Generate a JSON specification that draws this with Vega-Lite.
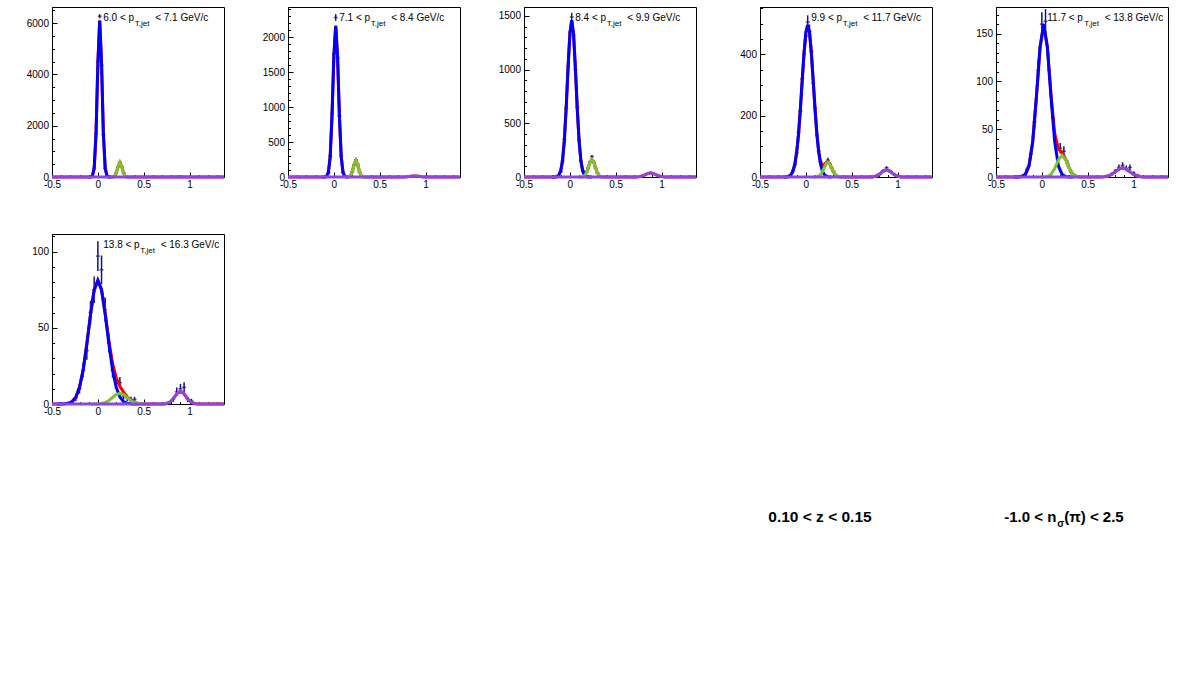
{
"$schema":"https://vega.github.io/schema/vega-lite/v6.json",
"background":"white",
"padding":{"left":25,"top":2,"right":5,"bottom":5},
"config":{"view":{"stroke":"black","strokeWidth":1},"axis":{"grid":false,"domainColor":"black","domainWidth":1,"tickColor":"black","tickWidth":1,"labelColor":"black","labelFont":"Liberation Sans","labelFontSize":10,"labelFlush":false,"labelOverlap":false}},
"datasets":{
"fit":[
{"p":1,"c":"tot","x":-0.5,"y":0},{"p":1,"c":"tot","x":-0.1,"y":0},{"p":1,"c":"tot","x":-0.08,"y":2},{"p":1,"c":"tot","x":-0.06,"y":37},{"p":1,"c":"tot","x":-0.04,"y":342},{"p":1,"c":"tot","x":-0.02,"y":1696},{"p":1,"c":"tot","x":0,"y":4429},{"p":1,"c":"tot","x":0.02,"y":6100},{"p":1,"c":"tot","x":0.04,"y":4429},{"p":1,"c":"tot","x":0.06,"y":1696},{"p":1,"c":"tot","x":0.08,"y":342},{"p":1,"c":"tot","x":0.1,"y":37},{"p":1,"c":"tot","x":0.12,"y":2},{"p":1,"c":"tot","x":0.14,"y":0},{"p":1,"c":"tot","x":0.16,"y":3},{"p":1,"c":"tot","x":0.18,"y":31},{"p":1,"c":"tot","x":0.2,"y":156},{"p":1,"c":"tot","x":0.22,"y":407},{"p":1,"c":"tot","x":0.24,"y":560},{"p":1,"c":"tot","x":0.26,"y":407},{"p":1,"c":"tot","x":0.28,"y":156},{"p":1,"c":"tot","x":0.3,"y":31},{"p":1,"c":"tot","x":0.32,"y":3},{"p":1,"c":"tot","x":0.34,"y":0},{"p":1,"c":"tot","x":0.76,"y":0},{"p":1,"c":"tot","x":0.82,"y":2},{"p":1,"c":"tot","x":0.88,"y":5},{"p":1,"c":"tot","x":0.94,"y":2},{"p":1,"c":"tot","x":1,"y":0},{"p":1,"c":"tot","x":1.375,"y":0},
{"p":1,"c":"pi","x":-0.1,"y":0},{"p":1,"c":"pi","x":-0.08,"y":2},{"p":1,"c":"pi","x":-0.06,"y":37},{"p":1,"c":"pi","x":-0.04,"y":342},{"p":1,"c":"pi","x":-0.02,"y":1696},{"p":1,"c":"pi","x":0,"y":4429},{"p":1,"c":"pi","x":0.02,"y":6100},{"p":1,"c":"pi","x":0.04,"y":4429},{"p":1,"c":"pi","x":0.06,"y":1696},{"p":1,"c":"pi","x":0.08,"y":342},{"p":1,"c":"pi","x":0.1,"y":37},{"p":1,"c":"pi","x":0.12,"y":2},{"p":1,"c":"pi","x":0.14,"y":0},
{"p":1,"c":"K","x":0.14,"y":0},{"p":1,"c":"K","x":0.16,"y":3},{"p":1,"c":"K","x":0.18,"y":31},{"p":1,"c":"K","x":0.2,"y":156},{"p":1,"c":"K","x":0.22,"y":407},{"p":1,"c":"K","x":0.24,"y":560},{"p":1,"c":"K","x":0.26,"y":407},{"p":1,"c":"K","x":0.28,"y":156},{"p":1,"c":"K","x":0.3,"y":31},{"p":1,"c":"K","x":0.32,"y":3},{"p":1,"c":"K","x":0.34,"y":0},
{"p":1,"c":"p","x":-0.5,"y":0},{"p":1,"c":"p","x":0.76,"y":0},{"p":1,"c":"p","x":0.82,"y":2},{"p":1,"c":"p","x":0.88,"y":5},{"p":1,"c":"p","x":0.94,"y":2},{"p":1,"c":"p","x":1,"y":0},{"p":1,"c":"p","x":1.375,"y":0},

{"p":2,"c":"tot","x":-0.5,"y":0},{"p":2,"c":"tot","x":-0.12,"y":0},{"p":2,"c":"tot","x":-0.1,"y":0.7},{"p":2,"c":"tot","x":-0.08,"y":8},{"p":2,"c":"tot","x":-0.06,"y":62},{"p":2,"c":"tot","x":-0.04,"y":292},{"p":2,"c":"tot","x":-0.02,"y":888},{"p":2,"c":"tot","x":0,"y":1730},{"p":2,"c":"tot","x":0.02,"y":2160},{"p":2,"c":"tot","x":0.04,"y":1730},{"p":2,"c":"tot","x":0.06,"y":888},{"p":2,"c":"tot","x":0.08,"y":292},{"p":2,"c":"tot","x":0.1,"y":62},{"p":2,"c":"tot","x":0.12,"y":8},{"p":2,"c":"tot","x":0.14,"y":0.8},{"p":2,"c":"tot","x":0.16,"y":2},{"p":2,"c":"tot","x":0.18,"y":16},{"p":2,"c":"tot","x":0.2,"y":72},{"p":2,"c":"tot","x":0.22,"y":175},{"p":2,"c":"tot","x":0.24,"y":235},{"p":2,"c":"tot","x":0.26,"y":175},{"p":2,"c":"tot","x":0.28,"y":72},{"p":2,"c":"tot","x":0.3,"y":16},{"p":2,"c":"tot","x":0.32,"y":2},{"p":2,"c":"tot","x":0.34,"y":0.1},{"p":2,"c":"tot","x":0.36,"y":0},{"p":2,"c":"tot","x":0.68,"y":0},{"p":2,"c":"tot","x":0.76,"y":0.8},{"p":2,"c":"tot","x":0.8,"y":4.2},{"p":2,"c":"tot","x":0.84,"y":10.9},{"p":2,"c":"tot","x":0.88,"y":15},{"p":2,"c":"tot","x":0.92,"y":10.9},{"p":2,"c":"tot","x":0.96,"y":4.2},{"p":2,"c":"tot","x":1,"y":0.8},{"p":2,"c":"tot","x":1.08,"y":0},{"p":2,"c":"tot","x":1.375,"y":0},
{"p":2,"c":"pi","x":-0.12,"y":0},{"p":2,"c":"pi","x":-0.1,"y":0.7},{"p":2,"c":"pi","x":-0.08,"y":8},{"p":2,"c":"pi","x":-0.06,"y":62},{"p":2,"c":"pi","x":-0.04,"y":292},{"p":2,"c":"pi","x":-0.02,"y":888},{"p":2,"c":"pi","x":0,"y":1730},{"p":2,"c":"pi","x":0.02,"y":2160},{"p":2,"c":"pi","x":0.04,"y":1730},{"p":2,"c":"pi","x":0.06,"y":888},{"p":2,"c":"pi","x":0.08,"y":292},{"p":2,"c":"pi","x":0.1,"y":62},{"p":2,"c":"pi","x":0.12,"y":8},{"p":2,"c":"pi","x":0.14,"y":0.7},{"p":2,"c":"pi","x":0.16,"y":0},
{"p":2,"c":"K","x":0.12,"y":0},{"p":2,"c":"K","x":0.14,"y":0.1},{"p":2,"c":"K","x":0.16,"y":2},{"p":2,"c":"K","x":0.18,"y":16},{"p":2,"c":"K","x":0.2,"y":72},{"p":2,"c":"K","x":0.22,"y":175},{"p":2,"c":"K","x":0.24,"y":235},{"p":2,"c":"K","x":0.26,"y":175},{"p":2,"c":"K","x":0.28,"y":72},{"p":2,"c":"K","x":0.3,"y":16},{"p":2,"c":"K","x":0.32,"y":2},{"p":2,"c":"K","x":0.34,"y":0.1},{"p":2,"c":"K","x":0.36,"y":0},
{"p":2,"c":"p","x":-0.5,"y":0},{"p":2,"c":"p","x":0.68,"y":0},{"p":2,"c":"p","x":0.72,"y":0.05},{"p":2,"c":"p","x":0.76,"y":0.8},{"p":2,"c":"p","x":0.8,"y":4.2},{"p":2,"c":"p","x":0.84,"y":10.9},{"p":2,"c":"p","x":0.88,"y":15},{"p":2,"c":"p","x":0.92,"y":10.9},{"p":2,"c":"p","x":0.96,"y":4.2},{"p":2,"c":"p","x":1,"y":0.8},{"p":2,"c":"p","x":1.04,"y":0.05},{"p":2,"c":"p","x":1.08,"y":0},{"p":2,"c":"p","x":1.375,"y":0},

{"p":3,"c":"tot","x":-0.5,"y":0},{"p":3,"c":"tot","x":-0.2,"y":0},{"p":3,"c":"tot","x":-0.18,"y":0.2},{"p":3,"c":"tot","x":-0.16,"y":0.95},{"p":3,"c":"tot","x":-0.14,"y":4.4},{"p":3,"c":"tot","x":-0.12,"y":17.2},{"p":3,"c":"tot","x":-0.1,"y":56},{"p":3,"c":"tot","x":-0.08,"y":152},{"p":3,"c":"tot","x":-0.06,"y":343},{"p":3,"c":"tot","x":-0.04,"y":647},{"p":3,"c":"tot","x":-0.02,"y":1016},{"p":3,"c":"tot","x":0,"y":1333},{"p":3,"c":"tot","x":0.02,"y":1460},{"p":3,"c":"tot","x":0.04,"y":1333},{"p":3,"c":"tot","x":0.06,"y":1016},{"p":3,"c":"tot","x":0.08,"y":647},{"p":3,"c":"tot","x":0.1,"y":343},{"p":3,"c":"tot","x":0.12,"y":152.5},{"p":3,"c":"tot","x":0.14,"y":58.8},{"p":3,"c":"tot","x":0.16,"y":29.3},{"p":3,"c":"tot","x":0.18,"y":42.4},{"p":3,"c":"tot","x":0.2,"y":86.8},{"p":3,"c":"tot","x":0.22,"y":140.2},{"p":3,"c":"tot","x":0.24,"y":165},{"p":3,"c":"tot","x":0.26,"y":140},{"p":3,"c":"tot","x":0.28,"y":85.8},{"p":3,"c":"tot","x":0.3,"y":38},{"p":3,"c":"tot","x":0.32,"y":12.1},{"p":3,"c":"tot","x":0.34,"y":2.8},{"p":3,"c":"tot","x":0.36,"y":0.46},{"p":3,"c":"tot","x":0.38,"y":0},{"p":3,"c":"tot","x":0.64,"y":0},{"p":3,"c":"tot","x":0.72,"y":0.55},{"p":3,"c":"tot","x":0.76,"y":3.5},{"p":3,"c":"tot","x":0.8,"y":13.2},{"p":3,"c":"tot","x":0.84,"y":29.2},{"p":3,"c":"tot","x":0.88,"y":38},{"p":3,"c":"tot","x":0.92,"y":29.2},{"p":3,"c":"tot","x":0.96,"y":13.2},{"p":3,"c":"tot","x":1,"y":3.5},{"p":3,"c":"tot","x":1.04,"y":0.55},{"p":3,"c":"tot","x":1.12,"y":0},{"p":3,"c":"tot","x":1.375,"y":0},
{"p":3,"c":"pi","x":-0.2,"y":0},{"p":3,"c":"pi","x":-0.18,"y":0.2},{"p":3,"c":"pi","x":-0.16,"y":0.95},{"p":3,"c":"pi","x":-0.14,"y":4.4},{"p":3,"c":"pi","x":-0.12,"y":17.2},{"p":3,"c":"pi","x":-0.1,"y":56},{"p":3,"c":"pi","x":-0.08,"y":152},{"p":3,"c":"pi","x":-0.06,"y":343},{"p":3,"c":"pi","x":-0.04,"y":647},{"p":3,"c":"pi","x":-0.02,"y":1016},{"p":3,"c":"pi","x":0,"y":1333},{"p":3,"c":"pi","x":0.02,"y":1460},{"p":3,"c":"pi","x":0.04,"y":1333},{"p":3,"c":"pi","x":0.06,"y":1016},{"p":3,"c":"pi","x":0.08,"y":647},{"p":3,"c":"pi","x":0.1,"y":343},{"p":3,"c":"pi","x":0.12,"y":152},{"p":3,"c":"pi","x":0.14,"y":56},{"p":3,"c":"pi","x":0.16,"y":17.2},{"p":3,"c":"pi","x":0.18,"y":4.4},{"p":3,"c":"pi","x":0.2,"y":0.95},{"p":3,"c":"pi","x":0.22,"y":0.2},{"p":3,"c":"pi","x":0.24,"y":0},
{"p":3,"c":"K","x":0.1,"y":0},{"p":3,"c":"K","x":0.12,"y":0.46},{"p":3,"c":"K","x":0.14,"y":2.8},{"p":3,"c":"K","x":0.16,"y":12.1},{"p":3,"c":"K","x":0.18,"y":38},{"p":3,"c":"K","x":0.2,"y":85.8},{"p":3,"c":"K","x":0.22,"y":140},{"p":3,"c":"K","x":0.24,"y":165},{"p":3,"c":"K","x":0.26,"y":140},{"p":3,"c":"K","x":0.28,"y":85.8},{"p":3,"c":"K","x":0.3,"y":38},{"p":3,"c":"K","x":0.32,"y":12.1},{"p":3,"c":"K","x":0.34,"y":2.8},{"p":3,"c":"K","x":0.36,"y":0.46},{"p":3,"c":"K","x":0.38,"y":0},
{"p":3,"c":"p","x":-0.5,"y":0},{"p":3,"c":"p","x":0.64,"y":0},{"p":3,"c":"p","x":0.68,"y":0.05},{"p":3,"c":"p","x":0.72,"y":0.55},{"p":3,"c":"p","x":0.76,"y":3.5},{"p":3,"c":"p","x":0.8,"y":13.2},{"p":3,"c":"p","x":0.84,"y":29.2},{"p":3,"c":"p","x":0.88,"y":38},{"p":3,"c":"p","x":0.92,"y":29.2},{"p":3,"c":"p","x":0.96,"y":13.2},{"p":3,"c":"p","x":1,"y":3.5},{"p":3,"c":"p","x":1.04,"y":0.55},{"p":3,"c":"p","x":1.08,"y":0.05},{"p":3,"c":"p","x":1.12,"y":0},{"p":3,"c":"p","x":1.375,"y":0},

{"p":4,"c":"tot","x":-0.5,"y":0},{"p":4,"c":"tot","x":-0.24,"y":0},{"p":4,"c":"tot","x":-0.22,"y":0.3},{"p":4,"c":"tot","x":-0.2,"y":1.1},{"p":4,"c":"tot","x":-0.18,"y":3.2},{"p":4,"c":"tot","x":-0.16,"y":8.4},{"p":4,"c":"tot","x":-0.14,"y":19.7},{"p":4,"c":"tot","x":-0.12,"y":41.9},{"p":4,"c":"tot","x":-0.1,"y":81},{"p":4,"c":"tot","x":-0.08,"y":140},{"p":4,"c":"tot","x":-0.06,"y":221},{"p":4,"c":"tot","x":-0.04,"y":314},{"p":4,"c":"tot","x":-0.02,"y":404},{"p":4,"c":"tot","x":0,"y":471},{"p":4,"c":"tot","x":0.02,"y":495},{"p":4,"c":"tot","x":0.04,"y":471},{"p":4,"c":"tot","x":0.06,"y":404},{"p":4,"c":"tot","x":0.08,"y":314},{"p":4,"c":"tot","x":0.1,"y":221.2},{"p":4,"c":"tot","x":0.12,"y":140.8},{"p":4,"c":"tot","x":0.14,"y":83.8},{"p":4,"c":"tot","x":0.16,"y":49.7},{"p":4,"c":"tot","x":0.18,"y":37},{"p":4,"c":"tot","x":0.2,"y":38.9},{"p":4,"c":"tot","x":0.22,"y":46.1},{"p":4,"c":"tot","x":0.24,"y":49.1},{"p":4,"c":"tot","x":0.26,"y":43.2},{"p":4,"c":"tot","x":0.28,"y":30.6},{"p":4,"c":"tot","x":0.3,"y":17.3},{"p":4,"c":"tot","x":0.32,"y":7.8},{"p":4,"c":"tot","x":0.34,"y":2.8},{"p":4,"c":"tot","x":0.36,"y":0.8},{"p":4,"c":"tot","x":0.38,"y":0.19},{"p":4,"c":"tot","x":0.4,"y":0},{"p":4,"c":"tot","x":0.64,"y":0},{"p":4,"c":"tot","x":0.68,"y":0.03},{"p":4,"c":"tot","x":0.72,"y":0.35},{"p":4,"c":"tot","x":0.76,"y":2.2},{"p":4,"c":"tot","x":0.8,"y":8.3},{"p":4,"c":"tot","x":0.84,"y":18.4},{"p":4,"c":"tot","x":0.88,"y":24},{"p":4,"c":"tot","x":0.92,"y":18.4},{"p":4,"c":"tot","x":0.96,"y":8.3},{"p":4,"c":"tot","x":1,"y":2.2},{"p":4,"c":"tot","x":1.04,"y":0.35},{"p":4,"c":"tot","x":1.08,"y":0.03},{"p":4,"c":"tot","x":1.12,"y":0},{"p":4,"c":"tot","x":1.375,"y":0},
{"p":4,"c":"pi","x":-0.24,"y":0},{"p":4,"c":"pi","x":-0.22,"y":0.3},{"p":4,"c":"pi","x":-0.2,"y":1.1},{"p":4,"c":"pi","x":-0.18,"y":3.2},{"p":4,"c":"pi","x":-0.16,"y":8.4},{"p":4,"c":"pi","x":-0.14,"y":19.7},{"p":4,"c":"pi","x":-0.12,"y":41.9},{"p":4,"c":"pi","x":-0.1,"y":81},{"p":4,"c":"pi","x":-0.08,"y":140},{"p":4,"c":"pi","x":-0.06,"y":221},{"p":4,"c":"pi","x":-0.04,"y":314},{"p":4,"c":"pi","x":-0.02,"y":404},{"p":4,"c":"pi","x":0,"y":471},{"p":4,"c":"pi","x":0.02,"y":495},{"p":4,"c":"pi","x":0.04,"y":471},{"p":4,"c":"pi","x":0.06,"y":404},{"p":4,"c":"pi","x":0.08,"y":314},{"p":4,"c":"pi","x":0.1,"y":221},{"p":4,"c":"pi","x":0.12,"y":140},{"p":4,"c":"pi","x":0.14,"y":81},{"p":4,"c":"pi","x":0.16,"y":41.9},{"p":4,"c":"pi","x":0.18,"y":19.7},{"p":4,"c":"pi","x":0.2,"y":8.4},{"p":4,"c":"pi","x":0.22,"y":3.2},{"p":4,"c":"pi","x":0.24,"y":1.1},{"p":4,"c":"pi","x":0.26,"y":0.3},{"p":4,"c":"pi","x":0.28,"y":0},
{"p":4,"c":"K","x":0.08,"y":0},{"p":4,"c":"K","x":0.1,"y":0.19},{"p":4,"c":"K","x":0.12,"y":0.8},{"p":4,"c":"K","x":0.14,"y":2.8},{"p":4,"c":"K","x":0.16,"y":7.8},{"p":4,"c":"K","x":0.18,"y":17.3},{"p":4,"c":"K","x":0.2,"y":30.5},{"p":4,"c":"K","x":0.22,"y":42.9},{"p":4,"c":"K","x":0.24,"y":48},{"p":4,"c":"K","x":0.26,"y":42.9},{"p":4,"c":"K","x":0.28,"y":30.5},{"p":4,"c":"K","x":0.3,"y":17.3},{"p":4,"c":"K","x":0.32,"y":7.8},{"p":4,"c":"K","x":0.34,"y":2.8},{"p":4,"c":"K","x":0.36,"y":0.8},{"p":4,"c":"K","x":0.38,"y":0.19},{"p":4,"c":"K","x":0.4,"y":0},
{"p":4,"c":"p","x":-0.5,"y":0},{"p":4,"c":"p","x":0.64,"y":0},{"p":4,"c":"p","x":0.68,"y":0.03},{"p":4,"c":"p","x":0.72,"y":0.35},{"p":4,"c":"p","x":0.76,"y":2.2},{"p":4,"c":"p","x":0.8,"y":8.3},{"p":4,"c":"p","x":0.84,"y":18.4},{"p":4,"c":"p","x":0.88,"y":24},{"p":4,"c":"p","x":0.92,"y":18.4},{"p":4,"c":"p","x":0.96,"y":8.3},{"p":4,"c":"p","x":1,"y":2.2},{"p":4,"c":"p","x":1.04,"y":0.35},{"p":4,"c":"p","x":1.08,"y":0.03},{"p":4,"c":"p","x":1.12,"y":0},{"p":4,"c":"p","x":1.375,"y":0},

{"p":5,"c":"tot","x":-0.5,"y":0},{"p":5,"c":"tot","x":-0.3,"y":0},{"p":5,"c":"tot","x":-0.26,"y":0.05},{"p":5,"c":"tot","x":-0.22,"y":0.45},{"p":5,"c":"tot","x":-0.18,"y":2.7},{"p":5,"c":"tot","x":-0.14,"y":11.7},{"p":5,"c":"tot","x":-0.1,"y":36.8},{"p":5,"c":"tot","x":-0.06,"y":83.2},{"p":5,"c":"tot","x":-0.02,"y":135.8},{"p":5,"c":"tot","x":0.02,"y":160.1},{"p":5,"c":"tot","x":0.06,"y":136.3},{"p":5,"c":"tot","x":0.1,"y":85.9},{"p":5,"c":"tot","x":0.14,"y":45.6},{"p":5,"c":"tot","x":0.18,"y":29.6},{"p":5,"c":"tot","x":0.22,"y":25.4},{"p":5,"c":"tot","x":0.26,"y":18.35},{"p":5,"c":"tot","x":0.3,"y":8.85},{"p":5,"c":"tot","x":0.34,"y":2.7},{"p":5,"c":"tot","x":0.38,"y":0.5},{"p":5,"c":"tot","x":0.42,"y":0.06},{"p":5,"c":"tot","x":0.46,"y":0},{"p":5,"c":"tot","x":0.6,"y":0},{"p":5,"c":"tot","x":0.64,"y":0.06},{"p":5,"c":"tot","x":0.68,"y":0.27},{"p":5,"c":"tot","x":0.72,"y":0.98},{"p":5,"c":"tot","x":0.76,"y":2.6},{"p":5,"c":"tot","x":0.8,"y":5.4},{"p":5,"c":"tot","x":0.84,"y":8.2},{"p":5,"c":"tot","x":0.88,"y":9.5},{"p":5,"c":"tot","x":0.92,"y":8.2},{"p":5,"c":"tot","x":0.96,"y":5.4},{"p":5,"c":"tot","x":1,"y":2.6},{"p":5,"c":"tot","x":1.04,"y":0.98},{"p":5,"c":"tot","x":1.08,"y":0.27},{"p":5,"c":"tot","x":1.12,"y":0.06},{"p":5,"c":"tot","x":1.16,"y":0},{"p":5,"c":"tot","x":1.375,"y":0},
{"p":5,"c":"pi","x":-0.3,"y":0},{"p":5,"c":"pi","x":-0.26,"y":0.05},{"p":5,"c":"pi","x":-0.22,"y":0.45},{"p":5,"c":"pi","x":-0.18,"y":2.7},{"p":5,"c":"pi","x":-0.14,"y":11.7},{"p":5,"c":"pi","x":-0.1,"y":36.8},{"p":5,"c":"pi","x":-0.06,"y":83.2},{"p":5,"c":"pi","x":-0.02,"y":135.8},{"p":5,"c":"pi","x":0.02,"y":160},{"p":5,"c":"pi","x":0.06,"y":135.8},{"p":5,"c":"pi","x":0.1,"y":83.2},{"p":5,"c":"pi","x":0.14,"y":36.8},{"p":5,"c":"pi","x":0.18,"y":11.7},{"p":5,"c":"pi","x":0.22,"y":2.7},{"p":5,"c":"pi","x":0.26,"y":0.45},{"p":5,"c":"pi","x":0.3,"y":0.05},{"p":5,"c":"pi","x":0.34,"y":0},
{"p":5,"c":"K","x":-0.02,"y":0},{"p":5,"c":"K","x":0.02,"y":0.06},{"p":5,"c":"K","x":0.06,"y":0.5},{"p":5,"c":"K","x":0.1,"y":2.7},{"p":5,"c":"K","x":0.14,"y":8.8},{"p":5,"c":"K","x":0.18,"y":17.9},{"p":5,"c":"K","x":0.22,"y":22.7},{"p":5,"c":"K","x":0.26,"y":17.9},{"p":5,"c":"K","x":0.3,"y":8.8},{"p":5,"c":"K","x":0.34,"y":2.7},{"p":5,"c":"K","x":0.38,"y":0.5},{"p":5,"c":"K","x":0.42,"y":0.06},{"p":5,"c":"K","x":0.46,"y":0},
{"p":5,"c":"p","x":-0.5,"y":0},{"p":5,"c":"p","x":0.6,"y":0},{"p":5,"c":"p","x":0.64,"y":0.06},{"p":5,"c":"p","x":0.68,"y":0.27},{"p":5,"c":"p","x":0.72,"y":0.98},{"p":5,"c":"p","x":0.76,"y":2.6},{"p":5,"c":"p","x":0.8,"y":5.4},{"p":5,"c":"p","x":0.84,"y":8.2},{"p":5,"c":"p","x":0.88,"y":9.5},{"p":5,"c":"p","x":0.92,"y":8.2},{"p":5,"c":"p","x":0.96,"y":5.4},{"p":5,"c":"p","x":1,"y":2.6},{"p":5,"c":"p","x":1.04,"y":0.98},{"p":5,"c":"p","x":1.08,"y":0.27},{"p":5,"c":"p","x":1.12,"y":0.06},{"p":5,"c":"p","x":1.16,"y":0},{"p":5,"c":"p","x":1.375,"y":0},

{"p":6,"c":"tot","x":-0.5,"y":0},{"p":6,"c":"tot","x":-0.44,"y":0},{"p":6,"c":"tot","x":-0.4,"y":0.02},{"p":6,"c":"tot","x":-0.36,"y":0.12},{"p":6,"c":"tot","x":-0.32,"y":0.49},{"p":6,"c":"tot","x":-0.28,"y":1.6},{"p":6,"c":"tot","x":-0.24,"y":4.54},{"p":6,"c":"tot","x":-0.2,"y":10.96},{"p":6,"c":"tot","x":-0.16,"y":22.5},{"p":6,"c":"tot","x":-0.12,"y":39.4},{"p":6,"c":"tot","x":-0.08,"y":58.8},{"p":6,"c":"tot","x":-0.04,"y":74.8},{"p":6,"c":"tot","x":0,"y":81.1},{"p":6,"c":"tot","x":0.04,"y":75.1},{"p":6,"c":"tot","x":0.08,"y":59.75},{"p":6,"c":"tot","x":0.12,"y":41.67},{"p":6,"c":"tot","x":0.16,"y":26.75},{"p":6,"c":"tot","x":0.2,"y":17.14},{"p":6,"c":"tot","x":0.24,"y":11.54},{"p":6,"c":"tot","x":0.28,"y":7.78},{"p":6,"c":"tot","x":0.32,"y":4.74},{"p":6,"c":"tot","x":0.36,"y":2.39},{"p":6,"c":"tot","x":0.4,"y":0.97},{"p":6,"c":"tot","x":0.44,"y":0.31},{"p":6,"c":"tot","x":0.48,"y":0.08},{"p":6,"c":"tot","x":0.52,"y":0.015},{"p":6,"c":"tot","x":0.56,"y":0},{"p":6,"c":"tot","x":0.66,"y":0},{"p":6,"c":"tot","x":0.7,"y":0.02},{"p":6,"c":"tot","x":0.74,"y":0.19},{"p":6,"c":"tot","x":0.78,"y":1},{"p":6,"c":"tot","x":0.82,"y":3.28},{"p":6,"c":"tot","x":0.86,"y":6.7},{"p":6,"c":"tot","x":0.9,"y":8.5},{"p":6,"c":"tot","x":0.94,"y":6.7},{"p":6,"c":"tot","x":0.98,"y":3.28},{"p":6,"c":"tot","x":1.02,"y":1},{"p":6,"c":"tot","x":1.06,"y":0.19},{"p":6,"c":"tot","x":1.1,"y":0.02},{"p":6,"c":"tot","x":1.14,"y":0},{"p":6,"c":"tot","x":1.375,"y":0},
{"p":6,"c":"pi","x":-0.44,"y":0},{"p":6,"c":"pi","x":-0.4,"y":0.02},{"p":6,"c":"pi","x":-0.36,"y":0.12},{"p":6,"c":"pi","x":-0.32,"y":0.49},{"p":6,"c":"pi","x":-0.28,"y":1.6},{"p":6,"c":"pi","x":-0.24,"y":4.54},{"p":6,"c":"pi","x":-0.2,"y":10.96},{"p":6,"c":"pi","x":-0.16,"y":22.5},{"p":6,"c":"pi","x":-0.12,"y":39.4},{"p":6,"c":"pi","x":-0.08,"y":58.8},{"p":6,"c":"pi","x":-0.04,"y":74.8},{"p":6,"c":"pi","x":0,"y":81},{"p":6,"c":"pi","x":0.04,"y":74.8},{"p":6,"c":"pi","x":0.08,"y":58.8},{"p":6,"c":"pi","x":0.12,"y":39.4},{"p":6,"c":"pi","x":0.16,"y":22.5},{"p":6,"c":"pi","x":0.2,"y":10.96},{"p":6,"c":"pi","x":0.24,"y":4.54},{"p":6,"c":"pi","x":0.28,"y":1.6},{"p":6,"c":"pi","x":0.32,"y":0.49},{"p":6,"c":"pi","x":0.36,"y":0.12},{"p":6,"c":"pi","x":0.4,"y":0.02},{"p":6,"c":"pi","x":0.44,"y":0},
{"p":6,"c":"K","x":-0.08,"y":0},{"p":6,"c":"K","x":-0.04,"y":0.015},{"p":6,"c":"K","x":0,"y":0.08},{"p":6,"c":"K","x":0.04,"y":0.31},{"p":6,"c":"K","x":0.08,"y":0.95},{"p":6,"c":"K","x":0.12,"y":2.27},{"p":6,"c":"K","x":0.16,"y":4.25},{"p":6,"c":"K","x":0.2,"y":6.18},{"p":6,"c":"K","x":0.24,"y":7},{"p":6,"c":"K","x":0.28,"y":6.18},{"p":6,"c":"K","x":0.32,"y":4.25},{"p":6,"c":"K","x":0.36,"y":2.27},{"p":6,"c":"K","x":0.4,"y":0.95},{"p":6,"c":"K","x":0.44,"y":0.31},{"p":6,"c":"K","x":0.48,"y":0.08},{"p":6,"c":"K","x":0.52,"y":0.015},{"p":6,"c":"K","x":0.56,"y":0},
{"p":6,"c":"p","x":-0.5,"y":0},{"p":6,"c":"p","x":0.66,"y":0},{"p":6,"c":"p","x":0.7,"y":0.02},{"p":6,"c":"p","x":0.74,"y":0.19},{"p":6,"c":"p","x":0.78,"y":1},{"p":6,"c":"p","x":0.82,"y":3.28},{"p":6,"c":"p","x":0.86,"y":6.7},{"p":6,"c":"p","x":0.9,"y":8.5},{"p":6,"c":"p","x":0.94,"y":6.7},{"p":6,"c":"p","x":0.98,"y":3.28},{"p":6,"c":"p","x":1.02,"y":1},{"p":6,"c":"p","x":1.06,"y":0.19},{"p":6,"c":"p","x":1.1,"y":0.02},{"p":6,"c":"p","x":1.14,"y":0},{"p":6,"c":"p","x":1.375,"y":0}
],
"pts":[
{"p":1,"x":-0.04,"y":340,"e":18},{"p":1,"x":-0.02,"y":1700,"e":41},{"p":1,"x":0,"y":4500,"e":67},{"p":1,"x":0.02,"y":6270,"e":79},{"p":1,"x":0.04,"y":4350,"e":66},{"p":1,"x":0.06,"y":1650,"e":41},{"p":1,"x":0.08,"y":330,"e":18},{"p":1,"x":0.1,"y":45,"e":7},{"p":1,"x":0.18,"y":35,"e":6},{"p":1,"x":0.2,"y":150,"e":12},{"p":1,"x":0.22,"y":400,"e":20},{"p":1,"x":0.24,"y":575,"e":24},{"p":1,"x":0.26,"y":410,"e":20},{"p":1,"x":0.28,"y":160,"e":13},{"p":1,"x":0.3,"y":35,"e":6},
{"p":2,"x":-0.06,"y":60,"e":8},{"p":2,"x":-0.04,"y":300,"e":17},{"p":2,"x":-0.02,"y":900,"e":30},{"p":2,"x":0,"y":1760,"e":42},{"p":2,"x":0.02,"y":2280,"e":48},{"p":2,"x":0.04,"y":1700,"e":41},{"p":2,"x":0.06,"y":870,"e":29},{"p":2,"x":0.08,"y":300,"e":17},{"p":2,"x":0.1,"y":65,"e":8},{"p":2,"x":0.18,"y":18,"e":4},{"p":2,"x":0.2,"y":75,"e":9},{"p":2,"x":0.22,"y":170,"e":13},{"p":2,"x":0.24,"y":245,"e":16},{"p":2,"x":0.26,"y":180,"e":13},{"p":2,"x":0.28,"y":70,"e":8},{"p":2,"x":0.3,"y":18,"e":4},{"p":2,"x":0.84,"y":12,"e":3.5},{"p":2,"x":0.88,"y":16,"e":4},{"p":2,"x":0.92,"y":10,"e":3},
{"p":3,"x":-0.1,"y":50,"e":7},{"p":3,"x":-0.08,"y":150,"e":12},{"p":3,"x":-0.06,"y":350,"e":19},{"p":3,"x":-0.04,"y":640,"e":25},{"p":3,"x":-0.02,"y":1030,"e":32},{"p":3,"x":0,"y":1350,"e":37},{"p":3,"x":0.02,"y":1490,"e":39},{"p":3,"x":0.04,"y":1320,"e":36},{"p":3,"x":0.06,"y":1000,"e":32},{"p":3,"x":0.08,"y":650,"e":25},{"p":3,"x":0.1,"y":340,"e":18},{"p":3,"x":0.12,"y":150,"e":12},{"p":3,"x":0.14,"y":60,"e":8},{"p":3,"x":0.16,"y":30,"e":5.5},{"p":3,"x":0.18,"y":45,"e":7},{"p":3,"x":0.2,"y":85,"e":9},{"p":3,"x":0.22,"y":140,"e":12},{"p":3,"x":0.24,"y":190,"e":14},{"p":3,"x":0.26,"y":135,"e":12},{"p":3,"x":0.28,"y":85,"e":9},{"p":3,"x":0.3,"y":40,"e":6},{"p":3,"x":0.32,"y":12,"e":3.5},{"p":3,"x":0.8,"y":14,"e":4},{"p":3,"x":0.84,"y":30,"e":5.5},{"p":3,"x":0.88,"y":40,"e":6},{"p":3,"x":0.92,"y":28,"e":5},{"p":3,"x":0.96,"y":12,"e":3.5},
{"p":4,"x":-0.14,"y":22,"e":4.7},{"p":4,"x":-0.12,"y":40,"e":6.3},{"p":4,"x":-0.1,"y":78,"e":9},{"p":4,"x":-0.08,"y":145,"e":12},{"p":4,"x":-0.06,"y":215,"e":15},{"p":4,"x":-0.04,"y":320,"e":18},{"p":4,"x":-0.02,"y":400,"e":20},{"p":4,"x":0,"y":460,"e":21},{"p":4,"x":0.02,"y":505,"e":22},{"p":4,"x":0.04,"y":475,"e":22},{"p":4,"x":0.06,"y":410,"e":20},{"p":4,"x":0.08,"y":305,"e":17},{"p":4,"x":0.1,"y":225,"e":15},{"p":4,"x":0.12,"y":135,"e":12},{"p":4,"x":0.14,"y":85,"e":9},{"p":4,"x":0.16,"y":50,"e":7},{"p":4,"x":0.18,"y":38,"e":6},{"p":4,"x":0.2,"y":40,"e":6.3},{"p":4,"x":0.22,"y":45,"e":6.7},{"p":4,"x":0.24,"y":55,"e":7.4},{"p":4,"x":0.26,"y":42,"e":6.5},{"p":4,"x":0.28,"y":30,"e":5.5},{"p":4,"x":0.3,"y":18,"e":4.2},{"p":4,"x":0.32,"y":8,"e":2.8},{"p":4,"x":0.34,"y":3,"e":1.7},{"p":4,"x":0.8,"y":9,"e":3},{"p":4,"x":0.84,"y":20,"e":4.5},{"p":4,"x":0.88,"y":30,"e":5.5},{"p":4,"x":0.92,"y":17,"e":4.1},{"p":4,"x":0.96,"y":9,"e":3},{"p":4,"x":1,"y":3,"e":1.7},
{"p":5,"x":-0.2,"y":2,"e":1.4},{"p":5,"x":-0.16,"y":8,"e":2.8},{"p":5,"x":-0.12,"y":24,"e":4.9},{"p":5,"x":-0.08,"y":58,"e":7.6},{"p":5,"x":-0.04,"y":112,"e":10.6},{"p":5,"x":0,"y":160,"e":12.6},{"p":5,"x":0.04,"y":163,"e":12.8},{"p":5,"x":0.08,"y":112,"e":10.6},{"p":5,"x":0.12,"y":62,"e":7.9},{"p":5,"x":0.16,"y":32,"e":5.7},{"p":5,"x":0.2,"y":30,"e":5.5},{"p":5,"x":0.24,"y":27,"e":5.2},{"p":5,"x":0.28,"y":14,"e":3.7},{"p":5,"x":0.32,"y":5,"e":2.2},{"p":5,"x":0.36,"y":1,"e":1},{"p":5,"x":0.76,"y":3,"e":1.7},{"p":5,"x":0.8,"y":6,"e":2.4},{"p":5,"x":0.84,"y":10,"e":3.2},{"p":5,"x":0.88,"y":12,"e":3.5},{"p":5,"x":0.92,"y":9,"e":3},{"p":5,"x":0.96,"y":10,"e":3.2},{"p":5,"x":1,"y":4,"e":2},{"p":5,"x":1.04,"y":2,"e":1.4},
{"p":6,"x":-0.28,"y":1,"e":1},{"p":6,"x":-0.24,"y":4,"e":2},{"p":6,"x":-0.2,"y":10,"e":3.2},{"p":6,"x":-0.16,"y":22,"e":4.7},{"p":6,"x":-0.12,"y":35,"e":5.9},{"p":6,"x":-0.08,"y":60,"e":7.7},{"p":6,"x":-0.04,"y":75,"e":8.7},{"p":6,"x":0,"y":97,"e":9.8},{"p":6,"x":0.04,"y":88,"e":9.4},{"p":6,"x":0.08,"y":62,"e":7.9},{"p":6,"x":0.12,"y":40,"e":6.3},{"p":6,"x":0.16,"y":22,"e":4.7},{"p":6,"x":0.2,"y":16,"e":4},{"p":6,"x":0.24,"y":14,"e":3.7},{"p":6,"x":0.28,"y":5,"e":2.2},{"p":6,"x":0.32,"y":4,"e":2},{"p":6,"x":0.36,"y":3,"e":1.7},{"p":6,"x":0.4,"y":3,"e":1.7},{"p":6,"x":0.82,"y":3,"e":1.7},{"p":6,"x":0.86,"y":8,"e":2.8},{"p":6,"x":0.9,"y":10,"e":3.2},{"p":6,"x":0.94,"y":11,"e":3.3},{"p":6,"x":0.98,"y":3,"e":1.7},{"p":6,"x":1.02,"y":2,"e":1.4}
]
},
"columns":5,
"spacing":{"row":57,"column":64},
"bounds":"flush",
"concat":[
{"width":172,"height":170,"resolve":{"scale":{"x":"independent","y":"independent"},"axis":{"x":"independent","y":"independent"}},"layer":[
{"encoding":{"x":{"field":"x","type":"quantitative","scale":{"domain":[-0.5,1.375],"nice":false,"zero":false},"axis":{"title":null,"values":[-0.5,-0.4,-0.3,-0.2,-0.1,0,0.1,0.2,0.3,0.4,0.5,0.6,0.7,0.8,0.9,1,1.1,1.2,1.3],"labelExpr":"abs(datum.value*2-round(datum.value*2))<0.001 ? ''+datum.value : ''","tickSize":{"condition":{"test":"abs(datum.value*2-round(datum.value*2))<0.001","value":-5},"value":-2.5},"labelPadding":7}},
"y":{"field":"y","type":"quantitative","scale":{"domain":[0,6630],"nice":false,"zero":true},"axis":{"title":null,"values":[0,500,1000,1500,2000,2500,3000,3500,4000,4500,5000,5500,6000,6500],"labelExpr":"datum.value % 2000 === 0 ? ''+datum.value : ''","tickSize":{"condition":{"test":"datum.value % 2000 === 0","value":-5},"value":-2.5},"labelPadding":8.5}}},
"layer":[
{"data":{"name":"pts"},"transform":[{"filter":"datum.p==1"}],"mark":{"type":"errorbar","color":"#14147a","thickness":1.5},"encoding":{"yError":{"field":"e"}}},
{"data":{"name":"pts"},"transform":[{"filter":"datum.p==1"}],"mark":{"type":"tick","orient":"horizontal","size":4,"thickness":1.5,"color":"#14147a"},"encoding":{}},
{"data":{"name":"fit"},"transform":[{"filter":"datum.p==1"}],"mark":{"type":"line","strokeWidth":3,"clip":false},"encoding":{"color":{"field":"c","type":"nominal","scale":{"domain":["tot","pi","K","p"],"range":["#ff0000","#0000ff","#7bc62d","#8b47e6"]},"legend":null}}}
]},
{"data":{"values":[{}]},"mark":{"type":"text","align":"left","baseline":"alphabetic","fontSize":10,"font":"Liberation Sans","color":"black"},"encoding":{"x":{"datum":0.298,"type":"quantitative","scale":{"domain":[0,1]},"axis":null},"y":{"datum":0.915,"type":"quantitative","scale":{"domain":[0,1]},"axis":null},"text":{"value":"6.0 < p"}}},
{"data":{"values":[{}]},"mark":{"type":"text","align":"left","baseline":"alphabetic","fontSize":8,"font":"Liberation Sans","color":"black","dx":31.6,"dy":4.5},"encoding":{"x":{"datum":0.298,"type":"quantitative","scale":{"domain":[0,1]},"axis":null},"y":{"datum":0.915,"type":"quantitative","scale":{"domain":[0,1]},"axis":null},"text":{"value":"T,jet"}}},
{"data":{"values":[{}]},"mark":{"type":"text","align":"left","baseline":"alphabetic","fontSize":10,"font":"Liberation Sans","color":"black","dx":51.9},"encoding":{"x":{"datum":0.298,"type":"quantitative","scale":{"domain":[0,1]},"axis":null},"y":{"datum":0.915,"type":"quantitative","scale":{"domain":[0,1]},"axis":null},"text":{"value":"< 7.1 GeV/c"}}}
]},
{"width":172,"height":170,"resolve":{"scale":{"x":"independent","y":"independent"},"axis":{"x":"independent","y":"independent"}},"layer":[
{"encoding":{"x":{"field":"x","type":"quantitative","scale":{"domain":[-0.5,1.375],"nice":false,"zero":false},"axis":{"title":null,"values":[-0.5,-0.4,-0.3,-0.2,-0.1,0,0.1,0.2,0.3,0.4,0.5,0.6,0.7,0.8,0.9,1,1.1,1.2,1.3],"labelExpr":"abs(datum.value*2-round(datum.value*2))<0.001 ? ''+datum.value : ''","tickSize":{"condition":{"test":"abs(datum.value*2-round(datum.value*2))<0.001","value":-5},"value":-2.5},"labelPadding":7}},
"y":{"field":"y","type":"quantitative","scale":{"domain":[0,2430],"nice":false,"zero":true},"axis":{"title":null,"values":[0,100,200,300,400,500,600,700,800,900,1000,1100,1200,1300,1400,1500,1600,1700,1800,1900,2000,2100,2200,2300,2400],"labelExpr":"datum.value % 500 === 0 ? ''+datum.value : ''","tickSize":{"condition":{"test":"datum.value % 500 === 0","value":-5},"value":-2.5},"labelPadding":8.5}}},
"layer":[
{"data":{"name":"pts"},"transform":[{"filter":"datum.p==2"}],"mark":{"type":"errorbar","color":"#14147a","thickness":1.5},"encoding":{"yError":{"field":"e"}}},
{"data":{"name":"pts"},"transform":[{"filter":"datum.p==2"}],"mark":{"type":"tick","orient":"horizontal","size":4,"thickness":1.5,"color":"#14147a"},"encoding":{}},
{"data":{"name":"fit"},"transform":[{"filter":"datum.p==2"}],"mark":{"type":"line","strokeWidth":3,"clip":false},"encoding":{"color":{"field":"c","type":"nominal","scale":{"domain":["tot","pi","K","p"],"range":["#ff0000","#0000ff","#7bc62d","#8b47e6"]},"legend":null}}}
]},
{"data":{"values":[{}]},"mark":{"type":"text","align":"left","baseline":"alphabetic","fontSize":10,"font":"Liberation Sans","color":"black"},"encoding":{"x":{"datum":0.298,"type":"quantitative","scale":{"domain":[0,1]},"axis":null},"y":{"datum":0.915,"type":"quantitative","scale":{"domain":[0,1]},"axis":null},"text":{"value":"7.1 < p"}}},
{"data":{"values":[{}]},"mark":{"type":"text","align":"left","baseline":"alphabetic","fontSize":8,"font":"Liberation Sans","color":"black","dx":31.6,"dy":4.5},"encoding":{"x":{"datum":0.298,"type":"quantitative","scale":{"domain":[0,1]},"axis":null},"y":{"datum":0.915,"type":"quantitative","scale":{"domain":[0,1]},"axis":null},"text":{"value":"T,jet"}}},
{"data":{"values":[{}]},"mark":{"type":"text","align":"left","baseline":"alphabetic","fontSize":10,"font":"Liberation Sans","color":"black","dx":51.9},"encoding":{"x":{"datum":0.298,"type":"quantitative","scale":{"domain":[0,1]},"axis":null},"y":{"datum":0.915,"type":"quantitative","scale":{"domain":[0,1]},"axis":null},"text":{"value":"< 8.4 GeV/c"}}}
]},
{"width":172,"height":170,"resolve":{"scale":{"x":"independent","y":"independent"},"axis":{"x":"independent","y":"independent"}},"layer":[
{"encoding":{"x":{"field":"x","type":"quantitative","scale":{"domain":[-0.5,1.375],"nice":false,"zero":false},"axis":{"title":null,"values":[-0.5,-0.4,-0.3,-0.2,-0.1,0,0.1,0.2,0.3,0.4,0.5,0.6,0.7,0.8,0.9,1,1.1,1.2,1.3],"labelExpr":"abs(datum.value*2-round(datum.value*2))<0.001 ? ''+datum.value : ''","tickSize":{"condition":{"test":"abs(datum.value*2-round(datum.value*2))<0.001","value":-5},"value":-2.5},"labelPadding":7}},
"y":{"field":"y","type":"quantitative","scale":{"domain":[0,1583],"nice":false,"zero":true},"axis":{"title":null,"values":[0,100,200,300,400,500,600,700,800,900,1000,1100,1200,1300,1400,1500],"labelExpr":"datum.value % 500 === 0 ? ''+datum.value : ''","tickSize":{"condition":{"test":"datum.value % 500 === 0","value":-5},"value":-2.5},"labelPadding":8.5}}},
"layer":[
{"data":{"name":"pts"},"transform":[{"filter":"datum.p==3"}],"mark":{"type":"errorbar","color":"#14147a","thickness":1.5},"encoding":{"yError":{"field":"e"}}},
{"data":{"name":"pts"},"transform":[{"filter":"datum.p==3"}],"mark":{"type":"tick","orient":"horizontal","size":4,"thickness":1.5,"color":"#14147a"},"encoding":{}},
{"data":{"name":"fit"},"transform":[{"filter":"datum.p==3"}],"mark":{"type":"line","strokeWidth":3,"clip":false},"encoding":{"color":{"field":"c","type":"nominal","scale":{"domain":["tot","pi","K","p"],"range":["#ff0000","#0000ff","#7bc62d","#8b47e6"]},"legend":null}}}
]},
{"data":{"values":[{}]},"mark":{"type":"text","align":"left","baseline":"alphabetic","fontSize":10,"font":"Liberation Sans","color":"black"},"encoding":{"x":{"datum":0.298,"type":"quantitative","scale":{"domain":[0,1]},"axis":null},"y":{"datum":0.915,"type":"quantitative","scale":{"domain":[0,1]},"axis":null},"text":{"value":"8.4 < p"}}},
{"data":{"values":[{}]},"mark":{"type":"text","align":"left","baseline":"alphabetic","fontSize":8,"font":"Liberation Sans","color":"black","dx":31.6,"dy":4.5},"encoding":{"x":{"datum":0.298,"type":"quantitative","scale":{"domain":[0,1]},"axis":null},"y":{"datum":0.915,"type":"quantitative","scale":{"domain":[0,1]},"axis":null},"text":{"value":"T,jet"}}},
{"data":{"values":[{}]},"mark":{"type":"text","align":"left","baseline":"alphabetic","fontSize":10,"font":"Liberation Sans","color":"black","dx":51.9},"encoding":{"x":{"datum":0.298,"type":"quantitative","scale":{"domain":[0,1]},"axis":null},"y":{"datum":0.915,"type":"quantitative","scale":{"domain":[0,1]},"axis":null},"text":{"value":"< 9.9 GeV/c"}}}
]},
{"width":172,"height":170,"resolve":{"scale":{"x":"independent","y":"independent"},"axis":{"x":"independent","y":"independent"}},"layer":[
{"encoding":{"x":{"field":"x","type":"quantitative","scale":{"domain":[-0.5,1.375],"nice":false,"zero":false},"axis":{"title":null,"values":[-0.5,-0.4,-0.3,-0.2,-0.1,0,0.1,0.2,0.3,0.4,0.5,0.6,0.7,0.8,0.9,1,1.1,1.2,1.3],"labelExpr":"abs(datum.value*2-round(datum.value*2))<0.001 ? ''+datum.value : ''","tickSize":{"condition":{"test":"abs(datum.value*2-round(datum.value*2))<0.001","value":-5},"value":-2.5},"labelPadding":7}},
"y":{"field":"y","type":"quantitative","scale":{"domain":[0,554],"nice":false,"zero":true},"axis":{"title":null,"values":[0,50,100,150,200,250,300,350,400,450,500,550],"labelExpr":"datum.value % 200 === 0 ? ''+datum.value : ''","tickSize":{"condition":{"test":"datum.value % 200 === 0","value":-5},"value":-2.5},"labelPadding":8.5}}},
"layer":[
{"data":{"name":"pts"},"transform":[{"filter":"datum.p==4"}],"mark":{"type":"errorbar","color":"#14147a","thickness":1.5},"encoding":{"yError":{"field":"e"}}},
{"data":{"name":"pts"},"transform":[{"filter":"datum.p==4"}],"mark":{"type":"tick","orient":"horizontal","size":4,"thickness":1.5,"color":"#14147a"},"encoding":{}},
{"data":{"name":"fit"},"transform":[{"filter":"datum.p==4"}],"mark":{"type":"line","strokeWidth":3,"clip":false},"encoding":{"color":{"field":"c","type":"nominal","scale":{"domain":["tot","pi","K","p"],"range":["#ff0000","#0000ff","#7bc62d","#8b47e6"]},"legend":null}}}
]},
{"data":{"values":[{}]},"mark":{"type":"text","align":"left","baseline":"alphabetic","fontSize":10,"font":"Liberation Sans","color":"black"},"encoding":{"x":{"datum":0.298,"type":"quantitative","scale":{"domain":[0,1]},"axis":null},"y":{"datum":0.915,"type":"quantitative","scale":{"domain":[0,1]},"axis":null},"text":{"value":"9.9 < p"}}},
{"data":{"values":[{}]},"mark":{"type":"text","align":"left","baseline":"alphabetic","fontSize":8,"font":"Liberation Sans","color":"black","dx":31.6,"dy":4.5},"encoding":{"x":{"datum":0.298,"type":"quantitative","scale":{"domain":[0,1]},"axis":null},"y":{"datum":0.915,"type":"quantitative","scale":{"domain":[0,1]},"axis":null},"text":{"value":"T,jet"}}},
{"data":{"values":[{}]},"mark":{"type":"text","align":"left","baseline":"alphabetic","fontSize":10,"font":"Liberation Sans","color":"black","dx":51.9},"encoding":{"x":{"datum":0.298,"type":"quantitative","scale":{"domain":[0,1]},"axis":null},"y":{"datum":0.915,"type":"quantitative","scale":{"domain":[0,1]},"axis":null},"text":{"value":"< 11.7 GeV/c"}}}
]},
{"width":172,"height":170,"resolve":{"scale":{"x":"independent","y":"independent"},"axis":{"x":"independent","y":"independent"}},"layer":[
{"encoding":{"x":{"field":"x","type":"quantitative","scale":{"domain":[-0.5,1.375],"nice":false,"zero":false},"axis":{"title":null,"values":[-0.5,-0.4,-0.3,-0.2,-0.1,0,0.1,0.2,0.3,0.4,0.5,0.6,0.7,0.8,0.9,1,1.1,1.2,1.3],"labelExpr":"abs(datum.value*2-round(datum.value*2))<0.001 ? ''+datum.value : ''","tickSize":{"condition":{"test":"abs(datum.value*2-round(datum.value*2))<0.001","value":-5},"value":-2.5},"labelPadding":7}},
"y":{"field":"y","type":"quantitative","scale":{"domain":[0,178],"nice":false,"zero":true},"axis":{"title":null,"values":[0,10,20,30,40,50,60,70,80,90,100,110,120,130,140,150,160,170],"labelExpr":"datum.value % 50 === 0 ? ''+datum.value : ''","tickSize":{"condition":{"test":"datum.value % 50 === 0","value":-5},"value":-2.5},"labelPadding":8.5}}},
"layer":[
{"data":{"name":"pts"},"transform":[{"filter":"datum.p==5"}],"mark":{"type":"errorbar","color":"#14147a","thickness":1.5},"encoding":{"yError":{"field":"e"}}},
{"data":{"name":"pts"},"transform":[{"filter":"datum.p==5"}],"mark":{"type":"tick","orient":"horizontal","size":4,"thickness":1.5,"color":"#14147a"},"encoding":{}},
{"data":{"name":"fit"},"transform":[{"filter":"datum.p==5"}],"mark":{"type":"line","strokeWidth":3,"clip":false},"encoding":{"color":{"field":"c","type":"nominal","scale":{"domain":["tot","pi","K","p"],"range":["#ff0000","#0000ff","#7bc62d","#8b47e6"]},"legend":null}}}
]},
{"data":{"values":[{}]},"mark":{"type":"text","align":"left","baseline":"alphabetic","fontSize":10,"font":"Liberation Sans","color":"black"},"encoding":{"x":{"datum":0.298,"type":"quantitative","scale":{"domain":[0,1]},"axis":null},"y":{"datum":0.915,"type":"quantitative","scale":{"domain":[0,1]},"axis":null},"text":{"value":"11.7 < p"}}},
{"data":{"values":[{}]},"mark":{"type":"text","align":"left","baseline":"alphabetic","fontSize":8,"font":"Liberation Sans","color":"black","dx":37.1,"dy":4.5},"encoding":{"x":{"datum":0.298,"type":"quantitative","scale":{"domain":[0,1]},"axis":null},"y":{"datum":0.915,"type":"quantitative","scale":{"domain":[0,1]},"axis":null},"text":{"value":"T,jet"}}},
{"data":{"values":[{}]},"mark":{"type":"text","align":"left","baseline":"alphabetic","fontSize":10,"font":"Liberation Sans","color":"black","dx":57.4},"encoding":{"x":{"datum":0.298,"type":"quantitative","scale":{"domain":[0,1]},"axis":null},"y":{"datum":0.915,"type":"quantitative","scale":{"domain":[0,1]},"axis":null},"text":{"value":"< 13.8 GeV/c"}}}
]},
{"width":172,"height":170,"resolve":{"scale":{"x":"independent","y":"independent"},"axis":{"x":"independent","y":"independent"}},"layer":[
{"encoding":{"x":{"field":"x","type":"quantitative","scale":{"domain":[-0.5,1.375],"nice":false,"zero":false},"axis":{"title":null,"values":[-0.5,-0.4,-0.3,-0.2,-0.1,0,0.1,0.2,0.3,0.4,0.5,0.6,0.7,0.8,0.9,1,1.1,1.2,1.3],"labelExpr":"abs(datum.value*2-round(datum.value*2))<0.001 ? ''+datum.value : ''","tickSize":{"condition":{"test":"abs(datum.value*2-round(datum.value*2))<0.001","value":-5},"value":-2.5},"labelPadding":7}},
"y":{"field":"y","type":"quantitative","scale":{"domain":[0,111.5],"nice":false,"zero":true},"axis":{"title":null,"values":[0,10,20,30,40,50,60,70,80,90,100,110],"labelExpr":"datum.value % 50 === 0 ? ''+datum.value : ''","tickSize":{"condition":{"test":"datum.value % 50 === 0","value":-5},"value":-2.5},"labelPadding":8.5}}},
"layer":[
{"data":{"name":"pts"},"transform":[{"filter":"datum.p==6"}],"mark":{"type":"errorbar","color":"#14147a","thickness":1.5},"encoding":{"yError":{"field":"e"}}},
{"data":{"name":"pts"},"transform":[{"filter":"datum.p==6"}],"mark":{"type":"tick","orient":"horizontal","size":4,"thickness":1.5,"color":"#14147a"},"encoding":{}},
{"data":{"name":"fit"},"transform":[{"filter":"datum.p==6"}],"mark":{"type":"line","strokeWidth":3,"clip":false},"encoding":{"color":{"field":"c","type":"nominal","scale":{"domain":["tot","pi","K","p"],"range":["#ff0000","#0000ff","#7bc62d","#8b47e6"]},"legend":null}}}
]},
{"data":{"values":[{}]},"mark":{"type":"text","align":"left","baseline":"alphabetic","fontSize":10,"font":"Liberation Sans","color":"black"},"encoding":{"x":{"datum":0.298,"type":"quantitative","scale":{"domain":[0,1]},"axis":null},"y":{"datum":0.915,"type":"quantitative","scale":{"domain":[0,1]},"axis":null},"text":{"value":"13.8 < p"}}},
{"data":{"values":[{}]},"mark":{"type":"text","align":"left","baseline":"alphabetic","fontSize":8,"font":"Liberation Sans","color":"black","dx":37.1,"dy":4.5},"encoding":{"x":{"datum":0.298,"type":"quantitative","scale":{"domain":[0,1]},"axis":null},"y":{"datum":0.915,"type":"quantitative","scale":{"domain":[0,1]},"axis":null},"text":{"value":"T,jet"}}},
{"data":{"values":[{}]},"mark":{"type":"text","align":"left","baseline":"alphabetic","fontSize":10,"font":"Liberation Sans","color":"black","dx":57.4},"encoding":{"x":{"datum":0.298,"type":"quantitative","scale":{"domain":[0,1]},"axis":null},"y":{"datum":0.915,"type":"quantitative","scale":{"domain":[0,1]},"axis":null},"text":{"value":"< 16.3 GeV/c"}}}
]},
{"width":172,"height":170,"view":{"stroke":null},"data":{"values":[]},"mark":"text","encoding":{}},
{"width":172,"height":170,"view":{"stroke":null},"data":{"values":[]},"mark":"text","encoding":{}},
{"width":172,"height":170,"view":{"stroke":null},"data":{"values":[]},"mark":"text","encoding":{}},
{"width":172,"height":170,"view":{"stroke":null},"data":{"values":[]},"mark":"text","encoding":{}},
{"width":172,"height":170,"view":{"stroke":null},"data":{"values":[]},"mark":"text","encoding":{}},
{"width":172,"height":170,"view":{"stroke":null},"data":{"values":[]},"mark":"text","encoding":{}},
{"width":172,"height":170,"view":{"stroke":null},"data":{"values":[]},"mark":"text","encoding":{}},
{"width":172,"height":170,"view":{"stroke":null},"data":{"values":[{}]},
"mark":{"type":"text","align":"left","baseline":"alphabetic","font":"Liberation Sans","fontSize":15.5,"fontWeight":"bold","color":"black"},
"encoding":{"x":{"datum":0.048,"type":"quantitative","scale":{"domain":[0,1]},"axis":null},"y":{"datum":0.64,"type":"quantitative","scale":{"domain":[0,1]},"axis":null},"text":{"value":"0.10 < z < 0.15"}}},
{"width":172,"height":170,"view":{"stroke":null},"data":{"values":[{}]},
"encoding":{"x":{"datum":0.048,"type":"quantitative","scale":{"domain":[0,1]},"axis":null},"y":{"datum":0.64,"type":"quantitative","scale":{"domain":[0,1]},"axis":null}},
"layer":[
{"mark":{"type":"text","align":"left","baseline":"alphabetic","font":"Liberation Sans","fontSize":15,"fontWeight":"bold","color":"black"},"encoding":{"text":{"value":"-1.0 < n"}}},
{"mark":{"type":"text","align":"left","baseline":"alphabetic","font":"Liberation Sans","fontSize":10,"fontWeight":"bold","color":"black","dx":53,"dy":4.5},"encoding":{"text":{"value":"σ"}}},
{"mark":{"type":"text","align":"left","baseline":"alphabetic","font":"Liberation Sans","fontSize":15,"fontWeight":"bold","color":"black","dx":60},"encoding":{"text":{"value":"(π) < 2.5"}}}
]}
]
}
